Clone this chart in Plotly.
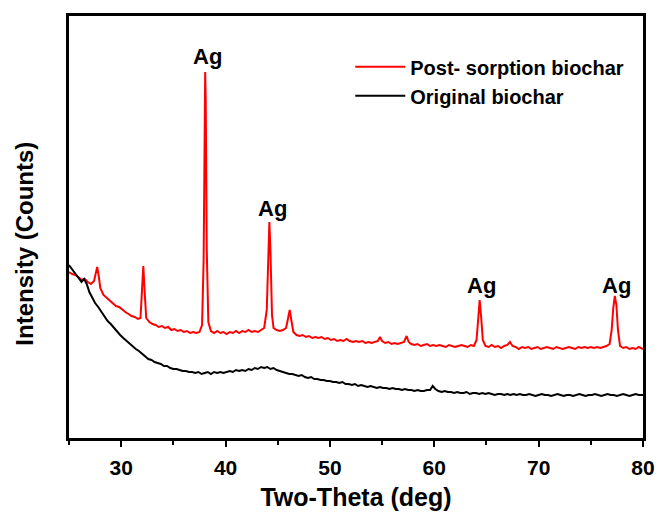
import plotly.graph_objects as go

# Post-sorption biochar (red)
red_x = [25.0, 25.3, 25.6, 25.9, 26.2, 26.5, 26.8, 27.1, 27.4, 27.55, 27.7, 27.85, 28.0, 28.3, 28.6, 28.9,
         29.2, 29.5, 29.8, 30.1, 30.4, 30.7, 31.0, 31.3, 31.6, 31.85, 32.0, 32.12, 32.25, 32.4, 32.7, 33.0,
         33.3, 33.6, 33.9, 34.2, 34.5, 34.8, 35.1, 35.4, 35.7, 36.0, 36.3, 36.6, 36.9, 37.2, 37.5, 37.75,
         37.9, 38.0, 38.05, 38.1, 38.2, 38.35, 38.6, 38.9, 39.2, 39.5, 39.8, 40.1, 40.4, 40.7, 41.0, 41.3,
         41.6, 41.9, 42.2, 42.5, 42.8, 43.1, 43.4, 43.7, 43.95, 44.1, 44.2, 44.3, 44.45, 44.6, 44.9, 45.2,
         45.5, 45.8, 46.0, 46.15, 46.3, 46.5, 46.8, 47.1, 47.4, 47.7, 48.0, 48.3, 48.6, 48.9, 49.2, 49.5,
         49.8, 50.1, 50.4, 50.7, 51.0, 51.3, 51.6, 51.9, 52.2, 52.5, 52.8, 53.1, 53.4, 53.7, 54.0, 54.3,
         54.6, 54.8, 55.0, 55.3, 55.6, 55.9, 56.2, 56.5, 56.8, 57.1, 57.35, 57.55, 57.8, 58.1, 58.4, 58.7,
         59.0, 59.3, 59.6, 59.9, 60.2, 60.5, 60.8, 61.1, 61.4, 61.7, 62.0, 62.3, 62.6, 62.9, 63.2, 63.5,
         63.8, 64.05, 64.2, 64.35, 64.5, 64.65, 64.9, 65.2, 65.5, 65.8, 66.1, 66.4, 66.7, 67.0, 67.25, 67.5,
         67.8, 68.1, 68.4, 68.7, 69.0, 69.3, 69.6, 69.9, 70.2, 70.5, 70.8, 71.1, 71.4, 71.7, 72.0, 72.3,
         72.6, 72.9, 73.2, 73.5, 73.8, 74.1, 74.4, 74.7, 75.0, 75.3, 75.6, 75.9, 76.2, 76.5, 76.8, 77.0,
         77.15, 77.3, 77.45, 77.6, 77.8, 78.1, 78.4, 78.7, 79.0, 79.3, 79.6, 80.0]
red_y = [1660, 1640, 1630, 1610, 1580, 1590, 1560, 1540, 1570, 1660, 1710, 1620, 1500, 1430, 1400, 1370,
         1350, 1320, 1310, 1280, 1260, 1240, 1220, 1210, 1190, 1200, 1430, 1720, 1460, 1200, 1160, 1140,
         1130, 1110, 1120, 1100, 1110, 1080, 1090, 1070, 1080, 1060, 1070, 1050, 1060, 1050, 1060, 1130,
         1780, 3280, 3660, 3380, 1880, 1160, 1070, 1050, 1070, 1050, 1060, 1040, 1060, 1050, 1070, 1050,
         1070, 1060, 1080, 1060, 1070, 1060, 1080, 1100, 1280, 1980, 2160, 1880, 1230, 1100, 1080, 1070,
         1080, 1100, 1200, 1280, 1180, 1060, 1030, 1020, 1030, 1010, 1020, 1000, 1010, 1000, 1010, 990,
         1000, 980, 990, 970, 980, 970, 990, 970, 960, 970, 960, 970, 950, 960, 950, 960,
         970, 1010, 970, 950, 960, 940, 950, 940, 950, 960, 1020, 960, 940, 930, 940, 920,
         930, 940, 920, 930, 920, 930, 920, 910, 930, 920, 910, 920, 930, 920, 910, 930,
         920, 980, 1200, 1380, 1200, 980, 920, 910, 930, 910, 920, 900, 920, 930, 960, 920,
         910, 890, 910, 900, 910, 890, 900, 910, 890, 900, 910, 900, 890, 910, 900, 890,
         900, 910, 900, 890, 910, 900, 910, 900, 910, 900, 910, 900, 910, 920, 940, 1080,
         1300, 1420, 1330, 1080, 920, 900, 910, 890, 900, 890, 910, 890]

# Original biochar (black)
black_x = [25.0, 25.3, 25.6, 25.9, 26.2, 26.45, 26.7, 26.95, 27.2, 27.5, 27.8, 28.1, 28.4, 28.7, 29.0, 29.3,
           29.6, 29.9, 30.2, 30.5, 30.8, 31.1, 31.4, 31.7, 32.0, 32.3, 32.6, 32.9, 33.2, 33.5, 33.8, 34.1,
           34.4, 34.7, 35.0, 35.3, 35.6, 35.9, 36.2, 36.5, 36.8, 37.1, 37.4, 37.7, 38.0, 38.3, 38.6, 38.9,
           39.2, 39.5, 39.8, 40.1, 40.4, 40.7, 41.0, 41.3, 41.6, 41.9, 42.2, 42.5, 42.8, 43.1, 43.4, 43.7,
           44.0, 44.3, 44.6, 44.9, 45.2, 45.5, 45.8, 46.1, 46.4, 46.7, 47.0, 47.3, 47.6, 47.9, 48.2, 48.5,
           48.8, 49.1, 49.4, 49.7, 50.0, 50.3, 50.6, 50.9, 51.2, 51.5, 51.8, 52.1, 52.4, 52.7, 53.0, 53.3,
           53.6, 53.9, 54.2, 54.5, 54.8, 55.1, 55.4, 55.7, 56.0, 56.3, 56.6, 56.9, 57.2, 57.5, 57.8, 58.1,
           58.4, 58.7, 59.0, 59.3, 59.6, 59.85, 60.1, 60.4, 60.7, 61.0, 61.3, 61.6, 61.9, 62.2, 62.5, 62.8,
           63.1, 63.4, 63.7, 64.0, 64.3, 64.6, 64.9, 65.2, 65.5, 65.8, 66.1, 66.4, 66.7, 67.0, 67.3, 67.6,
           67.9, 68.2, 68.5, 68.8, 69.1, 69.4, 69.7, 70.0, 70.3, 70.6, 70.9, 71.2, 71.5, 71.8, 72.1, 72.4,
           72.7, 73.0, 73.3, 73.6, 73.9, 74.2, 74.5, 74.8, 75.1, 75.4, 75.7, 76.0, 76.3, 76.6, 76.9, 77.2,
           77.5, 77.8, 78.1, 78.4, 78.7, 79.0, 79.3, 79.6, 80.0]
black_y = [1730, 1690, 1650, 1610, 1560, 1590, 1540, 1460, 1410, 1350, 1310, 1260, 1220, 1170, 1140, 1100,
           1070, 1030, 1000, 970, 950, 920, 890, 870, 840, 820, 790, 780, 760, 750, 740, 720,
           720, 700, 690, 690, 680, 670, 670, 660, 660, 650, 660, 640, 650, 660, 640, 660,
           650, 660, 650, 660, 670, 660, 680, 670, 680, 670, 690, 680, 700, 690, 710, 700,
           710, 690, 700, 680, 670, 660, 650, 640, 640, 630, 620, 630, 610, 600, 610, 590,
           590, 580, 580, 570, 570, 560, 560, 550, 560, 540, 540, 530, 540, 520, 530, 520,
           510, 520, 510, 500, 510, 500, 500, 490, 500, 490, 490, 480, 490, 480, 480, 470,
           480, 470, 470, 480, 480, 520, 490, 470, 460, 470, 460, 460, 450, 460, 450, 450,
           460, 440, 450, 450, 440, 450, 440, 450, 440, 430, 440, 440, 430, 440, 430, 440,
           430, 440, 430, 430, 440, 430, 420, 430, 440, 430, 430, 420, 430, 440, 430, 420,
           430, 430, 420, 430, 440, 430, 420, 430, 430, 440, 430, 420, 430, 440, 430, 430,
           420, 430, 440, 430, 420, 430, 440, 430, 430]

# Peak labels
peak_label_x = [38.3, 44.5, 64.5, 77.5]
peak_label_y = [3820, 2300, 1530, 1530]
peak_label_text = ["Ag", "Ag", "Ag", "Ag"]

series_names = ["Post- sorption biochar", "Original biochar"]
x_title = "Two-Theta (deg)"
y_title = "Intensity (Counts)"

FONT = "Liberation Sans, Arial, Helvetica, sans-serif"

fig = go.Figure()
fig.add_trace(go.Scatter(x=red_x, y=red_y, mode="lines", name=series_names[0],
                         line=dict(color="#ff0000", width=2)))
fig.add_trace(go.Scatter(x=black_x, y=black_y, mode="lines", name=series_names[1],
                         line=dict(color="#000000", width=2)))

for px, py, t in zip(peak_label_x, peak_label_y, peak_label_text):
    fig.add_annotation(x=px, y=py, text=t, showarrow=False, xanchor="center", yanchor="middle",
                       font=dict(family=FONT, size=22, color="black", weight="bold"))

# y-axis title (placed as rotated text, slightly below centre as in the reference)
fig.add_annotation(xref="paper", yref="paper", x=-0.077, y=0.46, text=y_title, textangle=-90,
                   showarrow=False, xanchor="center", yanchor="middle",
                   font=dict(family=FONT, size=24, color="black", weight="bold"))

fig.update_layout(
    width=657, height=521,
    margin=dict(l=69, r=14, t=16, b=83),
    paper_bgcolor="white", plot_bgcolor="white",
    showlegend=True,
    legend=dict(x=0.49, y=0.926, xanchor="left", yanchor="top",
                bgcolor="rgba(0,0,0,0)", borderwidth=0,
                font=dict(family=FONT, size=20, color="black", weight="bold"),
                itemwidth=50, tracegroupgap=0),
    xaxis=dict(range=[25, 80], tickmode="array", tickvals=[30, 40, 50, 60, 70, 80],
               ticks="outside", ticklen=6, tickwidth=2, tickcolor="black",
               minor=dict(tickmode="array", tickvals=[25, 35, 45, 55, 65, 75], ticks="outside",
                          ticklen=4, tickwidth=2, tickcolor="black"),
               showline=True, linewidth=2.5, linecolor="black", mirror=True,
               showgrid=False, zeroline=False, automargin=False,
               ticklabelstandoff=3,
               tickfont=dict(family=FONT, size=21, color="black", weight="bold"),
               title=dict(text=x_title, standoff=11,
                          font=dict(family=FONT, size=25, color="black", weight="bold"))),
    yaxis=dict(range=[0, 4220], showticklabels=False, ticks="",
               showline=True, linewidth=2.5, linecolor="black", mirror=True,
               showgrid=False, zeroline=False, automargin=False),
)

fig.write_html("out.html", config={"displayModeBar": False},
               post_script="document.body.style.margin='0px';document.body.style.overflow='hidden';")
